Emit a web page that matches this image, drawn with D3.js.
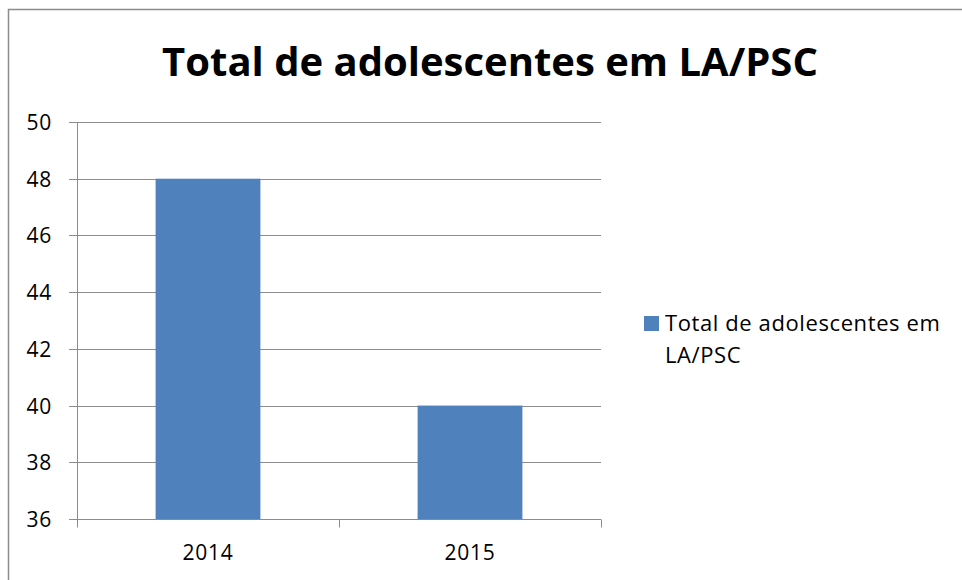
<!DOCTYPE html>
<html>
<head>
<meta charset="utf-8">
<script src="https://d3js.org/d3.v7.min.js"></script>
<style>
  body { margin: 0; background: #fff; }
  svg text { font-family: "Open Sans", Lato, sans-serif; }
</style>
</head>
<body>
<div id="chart"></div>
<script>
var categories = ["2014", "2015"];
var values = [48, 40];
var yTicks = [36, 38, 40, 42, 44, 46, 48, 50];
var seriesName = "Total de adolescentes em LA/PSC";
var titleText = "Total de adolescentes em LA/PSC";

var width = 962, height = 580;
var margin = {left: 77, right: 361, top: 122, bottom: 61};

var svg = d3.select("#chart").append("svg")
    .attr("width", width)
    .attr("height", height);

// outer chart border (runs off right and bottom edge)
svg.append("rect")
    .attr("x", 8.5).attr("y", 9.5)
    .attr("width", 1000).attr("height", 1000)
    .attr("fill", "none")
    .attr("stroke", "#8c8c8c")
    .attr("stroke-width", 1.5);

var x = d3.scaleBand()
    .domain(categories)
    .range([margin.left, width - margin.right])
    .paddingInner(0.6)
    .paddingOuter(0.3);

var y = d3.scaleLinear()
    .domain([36, 50])
    .range([height - margin.bottom, margin.top]);

// gridlines
svg.append("g")
    .attr("class", "grid")
    .selectAll("line")
    .data(yTicks)
    .enter()
    .append("line")
    .attr("x1", margin.left - 8)
    .attr("x2", width - margin.right)
    .attr("y1", function(d) { return Math.round(y(d)) + 0.5; })
    .attr("y2", function(d) { return Math.round(y(d)) + 0.5; })
    .attr("stroke", "#8c8c8c")
    .attr("stroke-width", 1);

// bars
svg.append("g")
    .attr("class", "bars")
    .selectAll("rect")
    .data(values)
    .enter()
    .append("rect")
    .attr("x", function(d, i) { return x(categories[i]); })
    .attr("y", function(d) { return y(d); })
    .attr("width", x.bandwidth())
    .attr("height", function(d) { return y(36) - y(d); })
    .attr("fill", "#4f81bd");

// y axis line
svg.append("line")
    .attr("x1", margin.left + 0.5).attr("x2", margin.left + 0.5)
    .attr("y1", y(50)).attr("y2", y(36))
    .attr("stroke", "#8c8c8c");

// x axis line + ticks
var xBase = Math.round(y(36)) + 0.5;
svg.append("line")
    .attr("x1", margin.left).attr("x2", width - margin.right)
    .attr("y1", xBase).attr("y2", xBase)
    .attr("stroke", "#8c8c8c");

var step = (width - margin.right - margin.left) / categories.length;
svg.append("g")
    .selectAll("line")
    .data(d3.range(categories.length + 1))
    .enter()
    .append("line")
    .attr("x1", function(i) { return Math.round(margin.left + i * step) + 0.5; })
    .attr("x2", function(i) { return Math.round(margin.left + i * step) + 0.5; })
    .attr("y1", xBase)
    .attr("y2", xBase + 8)
    .attr("stroke", "#8c8c8c");

// y tick labels
svg.append("g")
    .selectAll("text")
    .data(yTicks)
    .enter()
    .append("text")
    .attr("x", 52)
    .attr("y", function(d) { return y(d) + 8; })
    .attr("text-anchor", "end")
    .style("font-size", "21px")
    .style("letter-spacing", "0.7px")
    .style("fill", "#000")
    .text(function(d) { return d; });

// x tick labels
svg.append("g")
    .selectAll("text")
    .data(categories)
    .enter()
    .append("text")
    .attr("x", function(d) { return x(d) + x.bandwidth() / 2; })
    .attr("y", 560)
    .attr("text-anchor", "middle")
    .style("font-size", "21px")
    .style("letter-spacing", "0.7px")
    .style("fill", "#000")
    .text(function(d) { return d; });

// title
svg.append("text")
    .attr("x", 490)
    .attr("y", 76)
    .attr("text-anchor", "middle")
    .style("font-size", "40px")
    .style("font-weight", "bold")
    .style("fill", "#000")
    .text(titleText);

// legend
var legend = svg.append("g").attr("class", "legend");
legend.append("rect")
    .attr("x", 644).attr("y", 316)
    .attr("width", 15).attr("height", 15)
    .attr("fill", "#4f81bd");
legend.append("text")
    .attr("x", 665).attr("y", 331)
    .style("font-size", "22px")
    .style("letter-spacing", "0.6px")
    .style("fill", "#000")
    .text("Total de adolescentes em");
legend.append("text")
    .attr("x", 665).attr("y", 363)
    .style("font-size", "22px")
    .style("letter-spacing", "0.6px")
    .style("fill", "#000")
    .text("LA/PSC");
</script>
</body>
</html>
